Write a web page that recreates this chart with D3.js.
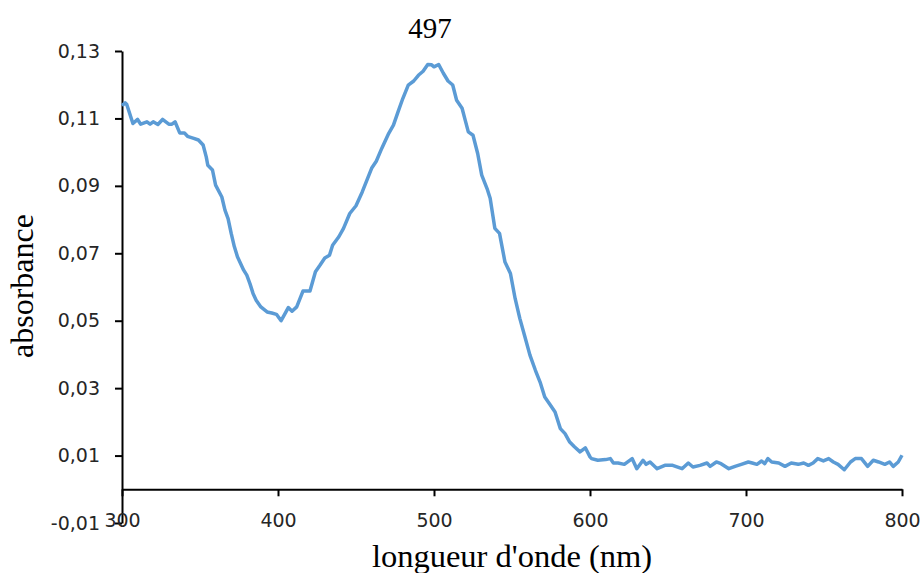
<!DOCTYPE html>
<html lang="fr">
<head>
<meta charset="utf-8">
<title>absorbance</title>
<script src="https://cdn.jsdelivr.net/npm/d3@7/dist/d3.min.js"></script>
<style>
  body { margin: 0; background: #fff; }
  .axis path, .axis line { stroke: #000; stroke-width: 2; }
  .axis text { font-family: "DejaVu Sans", sans-serif; font-size: 19px; fill: #262626; }
  .title { font-family: "Liberation Serif", "Times New Roman", serif; fill: #000; }
</style>
</head>
<body>
<script type="text/javascript">

// spectre
var wavelength = [300, 302, 303, 307, 310, 312, 316, 318, 320, 323, 326, 330, 332, 334, 337, 340, 342, 346, 349, 352,
  354, 355, 358, 360, 364, 366, 368, 370, 372, 374, 378, 380, 382, 384, 386, 389, 393, 396, 399, 402,
  404.5, 406.6, 409, 412, 416, 420.5, 424, 427, 430, 433, 435, 439, 442, 446, 450, 454, 457, 460, 463, 466.5,
  471, 474, 477, 480, 483.5, 487, 490, 493, 496, 498.5, 500, 503, 506, 509, 512, 514.5, 518, 520, 522, 525,
  528, 530.6, 534, 536, 539, 542, 545.5, 549, 552, 555, 558, 561.5, 565, 568, 571, 574, 577.6, 581, 584, 587,
  590, 593.6, 597, 600, 601, 605, 610, 613, 615, 618, 622, 627, 630, 634, 636, 638.5, 643, 648, 653, 659,
  663, 666, 670.5, 675, 677, 681, 684, 689, 693, 697, 701.5, 704, 707, 710, 712, 714, 716.5, 721, 725, 729,
  733.5, 737, 740, 743, 746, 749.6, 753, 756, 759, 763, 767, 770, 774, 778, 781.6, 785, 789, 792, 794.4, 797.6, 800];

var absorbance = [0.1138, 0.1146, 0.1142, 0.1085, 0.1097, 0.1083, 0.1090, 0.1083, 0.1090, 0.1082, 0.1097, 0.1083, 0.1083, 0.1090, 0.1057, 0.1057, 0.1047, 0.1041, 0.1036, 0.1021,
  0.0986, 0.0961, 0.0947, 0.0902, 0.0867, 0.0828, 0.0803, 0.0759, 0.0720, 0.0690, 0.0650, 0.0635, 0.0610, 0.0581, 0.0561, 0.0541, 0.0526, 0.0523, 0.0519, 0.0500,
  0.0521, 0.0539, 0.0528, 0.0541, 0.0588, 0.0588, 0.0645, 0.0665, 0.0686, 0.0694, 0.0724, 0.0749, 0.0774, 0.0818, 0.0841, 0.0882, 0.0917, 0.0952, 0.0973, 0.1011,
  0.1056, 0.1080, 0.1120, 0.1159, 0.1199, 0.1211, 0.1228, 0.1240, 0.1260, 0.1259, 0.1253, 0.1260, 0.1234, 0.1211, 0.1199, 0.1154, 0.1130, 0.1095, 0.1060, 0.1050,
  0.0996, 0.0932, 0.0892, 0.0863, 0.0774, 0.0759, 0.0674, 0.0640, 0.0566, 0.0507, 0.0457, 0.0398, 0.0353, 0.0318, 0.0274, 0.0254, 0.0229, 0.0180, 0.0165, 0.0140,
  0.0126, 0.0111, 0.0123, 0.0096, 0.0091, 0.0086, 0.0088, 0.0091, 0.0078, 0.0078, 0.0074, 0.0091, 0.0061, 0.0086, 0.0074, 0.0081, 0.0061, 0.0071, 0.0071, 0.0061,
  0.0078, 0.0066, 0.0071, 0.0078, 0.0068, 0.0081, 0.0076, 0.0061, 0.0068, 0.0074, 0.0081, 0.0078, 0.0074, 0.0084, 0.0076, 0.0091, 0.0081, 0.0078, 0.0068, 0.0078,
  0.0074, 0.0078, 0.0071, 0.0078, 0.0091, 0.0084, 0.0091, 0.0081, 0.0074, 0.0058, 0.0081, 0.0091, 0.0091, 0.0068, 0.0086, 0.0081, 0.0074, 0.0081, 0.0068, 0.0081, 0.0101];

var xTicks = [300, 400, 500, 600, 700, 800];
var yTicks = [-0.01, 0.01, 0.03, 0.05, 0.07, 0.09, 0.11, 0.13];
var peakLabel = "497";
var xTitle = "longueur d'onde (nm)";
var yTitle = "absorbance";

var W = 921, H = 573;
var margin = {top: 51, right: 19, bottom: 50, left: 122};
var w = W - margin.left - margin.right;
var h = H - margin.top - margin.bottom;

var x = d3.scaleLinear().domain([300, 800]).range([0, w]);
var y = d3.scaleLinear().domain([-0.01, 0.13]).range([h, 0]);

// format francais, tiret simple pour le signe moins
var fmt = function(d) { return d3.format(".2f")(d).replace(".", ",").replace("\u2212", "-"); };

var svg = d3.select("body").append("svg")
    .attr("width", W)
    .attr("height", H);

var g = svg.append("g")
    .attr("transform", "translate(" + margin.left + "," + margin.top + ")");

var data = wavelength.map(function(d, i) { return {nm: d, a: absorbance[i]}; });

// axes
g.append("g")
    .attr("class", "axis")
    .call(d3.axisLeft(y).tickValues(yTicks).tickFormat(fmt).tickSize(7).tickSizeOuter(0).tickPadding(15));

g.append("g")
    .attr("class", "axis")
    .attr("transform", "translate(0," + y(0) + ")")
    .call(d3.axisBottom(x).tickValues(xTicks).tickSize(7).tickSizeOuter(0).tickPadding(17));

// courbe
g.append("path")
    .datum(data)
    .attr("fill", "none")
    .attr("stroke", "#5b9bd5")
    .attr("stroke-width", 3.5)
    .attr("stroke-linejoin", "round")
    .attr("d", d3.line()
        .x(function(d) { return x(d.nm); })
        .y(function(d) { return y(d.a); }));

// titres
svg.append("text")
    .attr("class", "title")
    .attr("x", 430)
    .attr("y", 38)
    .attr("text-anchor", "middle")
    .style("font-size", "29px")
    .text(peakLabel);

svg.append("text")
    .attr("class", "title")
    .attr("x", 512)
    .attr("y", 567)
    .attr("text-anchor", "middle")
    .style("font-size", "32.5px")
    .text(xTitle);

svg.append("text")
    .attr("class", "title")
    .attr("transform", "translate(33,286) rotate(-90)")
    .attr("text-anchor", "middle")
    .style("font-size", "32px")
    .text(yTitle);

</script>
</body>
</html>
